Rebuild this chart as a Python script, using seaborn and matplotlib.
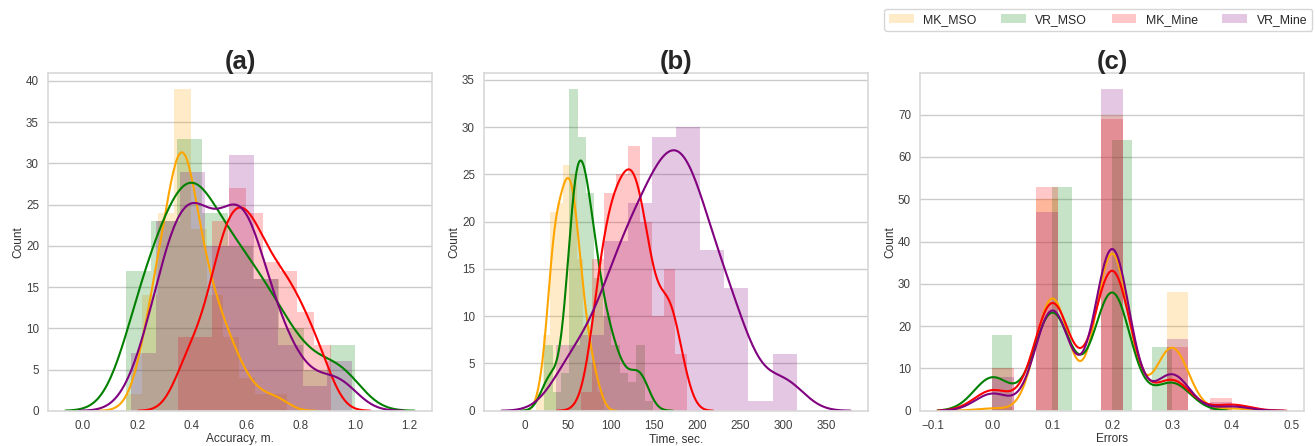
import numpy as np
import pandas as pd
import matplotlib
matplotlib.use("Agg")
import matplotlib.pyplot as plt
from matplotlib.patches import Patch
import seaborn as sns

series = ["MK_MSO", "VR_MSO", "MK_Mine", "VR_Mine"]
colors = ["orange", "green", "red", "purple"]

# ---- Panel (a): Accuracy, m. (bin range lo/hi, counts per bin) ----
acc_lo = [0.160, 0.158, 0.349, 0.178]
acc_hi = [0.750, 1.000, 0.911, 0.988]
acc_counts = [
    [2, 14, 24, 39, 22, 14, 9, 4, 2, 2],         # MK_MSO
    [17, 23, 33, 24, 20, 16, 10, 5, 8],          # VR_MSO
    [9, 9, 23, 27, 24, 18, 17, 12, 8],           # MK_Mine
    [7, 23, 29, 20, 31, 16, 8, 3, 6],            # VR_Mine
]

# ---- Panel (b): Time, sec. ----
time_lo = [13.7, 23, 65, 36]
time_hi = [91.7, 149, 189, 316]
time_counts = [
    [2, 8, 21, 22, 26, 25, 16, 9, 5, 2],                   # MK_MSO
    [7, 2, 4, 34, 29, 23, 14, 10, 7, 4, 3, 7, 1],          # VR_MSO
    [2, 16, 23, 25, 28, 20, 10, 15, 6],                    # MK_Mine
    [7, 8, 18, 22, 29, 30, 17, 13, 1, 6],                  # VR_Mine
]

# ---- Panel (c): Errors (discrete levels) ----
err_levels = [0.0, 0.1, 0.2, 0.3, 0.4]
err_counts = [
    [1, 50, 70, 28, 1],     # MK_MSO
    [18, 53, 64, 15, 0],    # VR_MSO
    [10, 53, 69, 15, 3],    # MK_Mine
    [8, 47, 76, 17, 2],     # VR_Mine
]
err_nbins = [11, 9, 11, 11]
err_lo = [0.0, 0.0, 0.0, 0.0]
err_hi = [0.4, 0.3, 0.4, 0.4]

titles = ["(a)", "(b)", "(c)"]
xlabels = ["Accuracy, m.", "Time, sec.", "Errors"]

sns.set_theme(style="whitegrid")
plt.rcParams["font.family"] = ["Liberation Sans", "DejaVu Sans"]

fig = plt.figure(figsize=(13.15, 4.46), dpi=100)
lefts = [48 / 1315, 484 / 1315, 920 / 1315]
axes = [fig.add_axes([l, 0.079, 384 / 1315, 0.757]) for l in lefts]

ALPHA = 0.22


def edges_for(lo, hi, n):
    e = np.linspace(lo, hi, n + 1)
    e[1:-1] -= 1e-9
    return e


def spread(edges, counts):
    # place each bin's observations evenly inside that bin
    out = []
    for k, c in enumerate(counts):
        if c > 0:
            a, b = edges[k], edges[k + 1]
            out.append(a + (b - a) * (np.arange(c) + 0.5) / c)
    return np.concatenate(out)


def draw(ax, values, edges, color):
    sns.histplot(x=values, bins=edges, kde=True, color=color, alpha=ALPHA,
                 linewidth=0, kde_kws={"cut": 3},
                 line_kws={"linewidth": 1.5}, ax=ax)


# (a)
for i in range(4):
    e = edges_for(acc_lo[i], acc_hi[i], len(acc_counts[i]))
    draw(axes[0], spread(e, acc_counts[i]), e, colors[i])

# (b)
for i in range(4):
    e = edges_for(time_lo[i], time_hi[i], len(time_counts[i]))
    draw(axes[1], spread(e, time_counts[i]), e, colors[i])

# (c)
for i in range(4):
    e = edges_for(err_lo[i], err_hi[i], err_nbins[i])
    vals = np.repeat(np.array(err_levels), err_counts[i])
    draw(axes[2], vals, e, colors[i])

for ax, t, xl in zip(axes, titles, xlabels):
    ax.set_title(t, fontsize=18.5, fontweight="bold", pad=3)
    ax.set_xlabel(xl, fontsize=8.6, labelpad=1, color="0.2")
    ax.set_ylabel("Count", fontsize=8.6, labelpad=1, color="0.2")
    ax.tick_params(axis="both", labelsize=8.4, pad=0.5, labelcolor="0.25")
    ax.grid(axis="x", visible=False)
    for s in ax.spines.values():
        s.set_edgecolor("0.85")

axes[0].set_yticks(np.arange(0, 41, 5))
axes[1].set_yticks(np.arange(0, 36, 5))
axes[1].set_xticks(np.arange(0, 351, 50))
axes[2].set_yticks(np.arange(0, 71, 10))
axes[2].set_xticks(np.round(np.arange(-0.1, 0.51, 0.1), 1))

handles = [Patch(facecolor=c, alpha=ALPHA, edgecolor="none") for c in colors]
fig.legend(handles, series, loc="upper right", ncol=4, fontsize=8.8,
           bbox_to_anchor=(1312 / 1315, 1 - 9 / 446), borderaxespad=0,
           frameon=True, edgecolor="0.8")

fig.savefig("out.png", dpi=100)
